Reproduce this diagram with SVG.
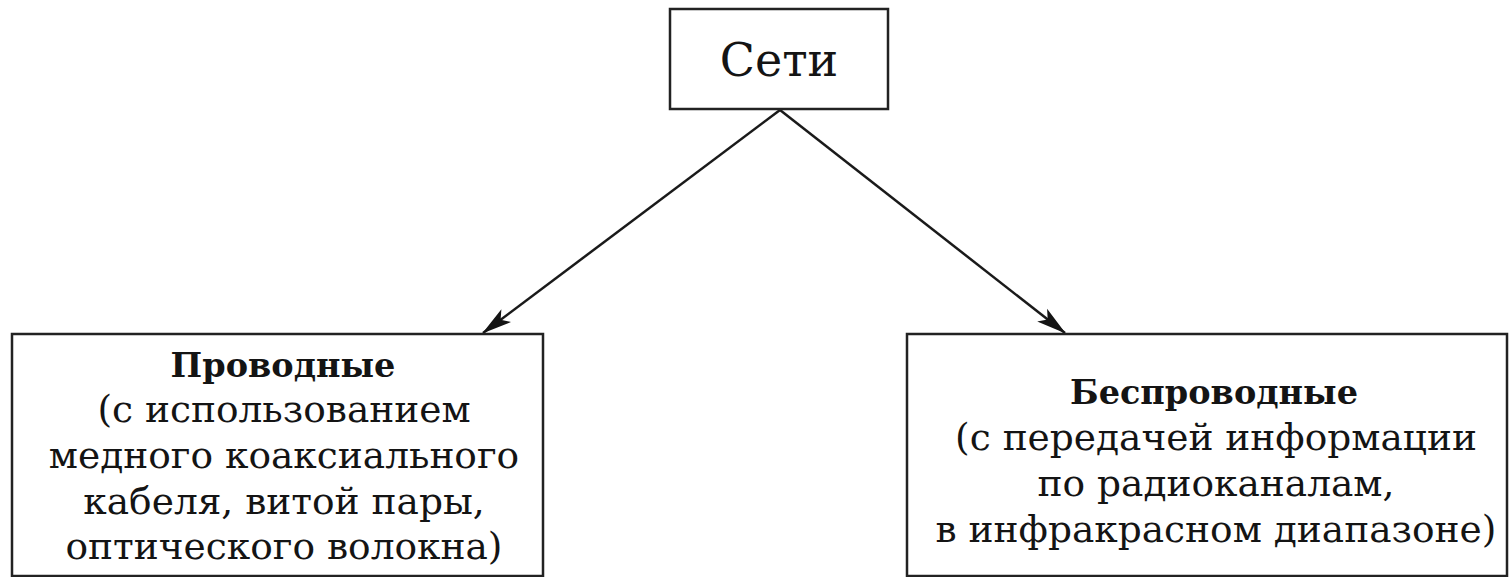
<svg xmlns="http://www.w3.org/2000/svg" width="1509" height="577" viewBox="0 0 1509 577">
<style>
.box{fill:#fff;stroke:#222;stroke-width:2.5}
.t{font-family:"DejaVu Serif","Liberation Serif",serif;fill:#141414;text-anchor:middle}
.body{font-size:37.5px}
.head{font-size:33.5px;font-weight:bold}
.title{font-size:46px}
.edge{stroke:#1a1a1a;stroke-width:2.5;fill:none}
</style>
<defs>
<marker id="arr" viewBox="0 0 30 18" refX="29" refY="9" markerWidth="30" markerHeight="18" markerUnits="userSpaceOnUse" orient="auto">
<path d="M0,1 L30,9 L0,17 L7,9 Z" fill="#141414"/>
</marker>
</defs>
<rect width="1509" height="577" fill="#fff"/>
<g id="connectors">
<line class="edge" x1="780" y1="110" x2="483" y2="333" marker-end="url(#arr)"/>
<line class="edge" x1="780" y1="110" x2="1065" y2="333" marker-end="url(#arr)"/>
</g>
<g id="node-seti">
<rect class="box" x="670" y="9" width="218" height="100"/>
<text class="t title" x="779" y="76">Сети</text>
</g>
<g id="node-wired">
<rect class="box" x="12" y="334" width="531" height="242"/>
<text class="t head" x="283" y="377">Проводные</text>
<text class="t body" x="284" y="422">(с использованием</text>
<text class="t body" x="284" y="468">медного коаксиального</text>
<text class="t body" x="284" y="514">кабеля, витой пары,</text>
<text class="t body" x="284" y="559">оптического волокна)</text>
</g>
<g id="node-wireless">
<rect class="box" x="907" y="334" width="600" height="242"/>
<text class="t head" x="1214" y="404">Беспроводные</text>
<text class="t body" x="1216" y="450">(с передачей информации</text>
<text class="t body" x="1216" y="496">по радиоканалам,</text>
<text class="t body" x="1216" y="542">в инфракрасном диапазоне)</text>
</g>
</svg>
